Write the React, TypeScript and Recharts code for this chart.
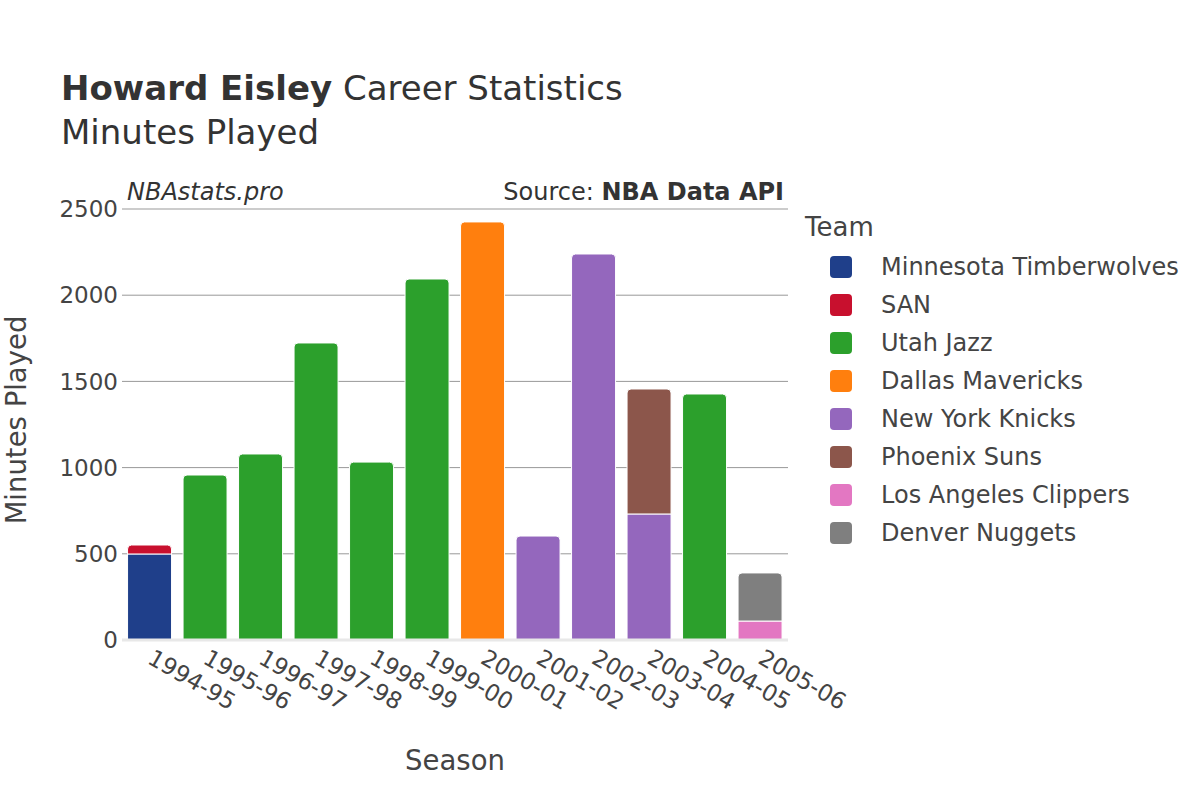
import React from 'react';
import { BarChart, Bar, XAxis, YAxis, CartesianGrid, ReferenceLine } from 'recharts';

const seasons = ['1994-95', '1995-96', '1996-97', '1997-98', '1998-99', '1999-00', '2000-01', '2001-02', '2002-03', '2003-04', '2004-05', '2005-06'];

const teams = ['Minnesota Timberwolves', 'SAN', 'Utah Jazz', 'Dallas Mavericks', 'New York Knicks', 'Phoenix Suns', 'Los Angeles Clippers', 'Denver Nuggets'];
const teamColors = ['#1f3f8a', '#c8102e', '#2ca02c', '#ff7f0e', '#9467bd', '#8c564b', '#e377c2', '#7f7f7f'];

const minnesota = [499, 0, 0, 0, 0, 0, 0, 0, 0, 0, 0, 0];
const san = [52, 0, 0, 0, 0, 0, 0, 0, 0, 0, 0, 0];
const utah = [0, 957, 1079, 1723, 1032, 2094, 0, 0, 0, 0, 1427, 0];
const dallas = [0, 0, 0, 0, 0, 0, 2425, 0, 0, 0, 0, 0];
const knicks = [0, 0, 0, 0, 0, 0, 0, 603, 2239, 731, 0, 0];
const phoenix = [0, 0, 0, 0, 0, 0, 0, 0, 0, 725, 0, 0];
const clippers = [0, 0, 0, 0, 0, 0, 0, 0, 0, 0, 0, 110];
const denver = [0, 0, 0, 0, 0, 0, 0, 0, 0, 0, 0, 279];

const yTicks = [0, 500, 1000, 1500, 2000, 2500];

const seriesValues = [minnesota, san, utah, dallas, knicks, phoenix, clippers, denver];

const data = seasons.map((s, i) => {
  const row: Record<string, any> = { season: s };
  teams.forEach((t, k) => {
    row[t] = seriesValues[k][i];
  });
  return row;
});

const FONT = '"DejaVu Sans", sans-serif';
const TXT = '#444';

function makeShape(team: string) {
  const idx = teams.indexOf(team);
  return (props: any) => {
    const { x, y, width, height, payload, fill } = props;
    if (!height || height <= 0.01) return <g />;
    let isTop = true;
    for (let k = idx + 1; k < teams.length; k++) {
      if (payload && payload[teams[k]] > 0) isTop = false;
    }
    const r = isTop ? Math.min(4, height) : 0;
    const x0 = x, x1 = x + width, y0 = y, y1 = y + height;
    const d = `M${x0},${y1} L${x0},${y0 + r} Q${x0},${y0} ${x0 + r},${y0} L${x1 - r},${y0} Q${x1},${y0} ${x1},${y0 + r} L${x1},${y1} Z`;
    return <path d={d} fill={fill} stroke="#ffffff" strokeWidth={1} />;
  };
}

const XTick = (props: any) => {
  const { x, payload } = props;
  const ox = x + 5;
  const oy = 648;
  return (
    <text
      x={ox}
      y={oy}
      dy="0.73em"
      textAnchor="start"
      transform={`rotate(30, ${ox}, ${oy})`}
      fill={TXT}
      fontSize={23}
      fontFamily={FONT}
    >
      {payload.value}
    </text>
  );
};

export default function App() {
  return (
    <div style={{ position: 'absolute', left: 0, top: 0, width: 1200, height: 800, background: '#fff', fontFamily: FONT }}>
      <BarChart
        width={1200}
        height={800}
        data={data}
        margin={{ top: 209, right: 412, bottom: 0, left: 62 }}
        barCategoryGap="10%"
      >
        <CartesianGrid horizontal={true} vertical={false} stroke="#999" strokeWidth={1} />
        <XAxis
          dataKey="season"
          axisLine={false}
          tickLine={false}
          tick={<XTick />}
          interval={0}
          height={160}
        />
        <YAxis
          width={60}
          domain={[0, 2500]}
          ticks={yTicks}
          axisLine={false}
          tickLine={false}
          tickSize={0}
          tickMargin={4}
          tick={{ fill: TXT, fontSize: 23, fontFamily: FONT }}
        />
        <ReferenceLine y={0} stroke="#e8e8e8" strokeWidth={3} />
        {teams.map((t, k) => (
          <Bar
            key={t}
            dataKey={t}
            stackId="a"
            fill={teamColors[k]}
            isAnimationActive={false}
            shape={makeShape(t)}
          />
        ))}
      </BarChart>
      <svg width={1200} height={800} style={{ position: 'absolute', left: 0, top: 0, pointerEvents: 'none' }}>
        <text x={61} y={100} fontSize={34} fontFamily={FONT} fill="#333">
          <tspan fontWeight="bold">Howard Eisley</tspan>
          <tspan> Career Statistics</tspan>
        </text>
        <text x={61} y={144} fontSize={34} fontFamily={FONT} fill="#333">Minutes Played</text>
        <text x={127} y={200} fontSize={24} fontStyle="italic" fontFamily={FONT} fill="#333">NBAstats.pro</text>
        <text x={784} y={200} fontSize={24} textAnchor="end" fontFamily={FONT} fill="#333">
          <tspan>Source: </tspan>
          <tspan fontWeight="bold">NBA Data API</tspan>
        </text>
        <text
          x={0}
          y={0}
          transform="translate(18, 420) rotate(-90)"
          textAnchor="middle"
          dominantBaseline="middle"
          fontSize={27.5}
          fontFamily={FONT}
          fill={TXT}
        >
          Minutes Played
        </text>
        <text x={455} y={770} textAnchor="middle" fontSize={27.5} fontFamily={FONT} fill={TXT}>Season</text>
        <text x={805} y={236} fontSize={26} fontFamily={FONT} fill={TXT}>Team</text>
        {teams.map((t, k) => (
          <g key={t}>
            <rect x={830} y={256 + k * 38} width={22} height={22} rx={4} ry={4} fill={teamColors[k]} />
            <text x={881} y={275 + k * 38} fontSize={24} fontFamily={FONT} fill={TXT}>{t}</text>
          </g>
        ))}
      </svg>
    </div>
  );
}
